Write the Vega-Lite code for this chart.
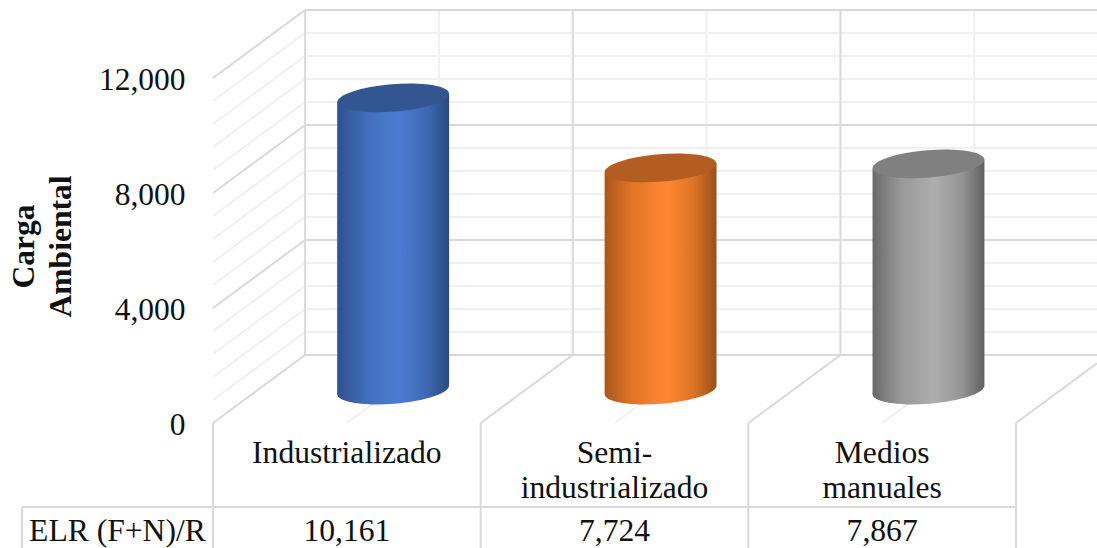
{
"$schema":"https://vega.github.io/schema/vega-lite/v6.json",
"width":1097,"height":548,"autosize":"none","padding":0,"background":"white",
"config":{"view":{"stroke":null},"text":{"font":"Liberation Serif"}},
"datasets":{
"grid":[
{"kind":"minor","x":0.844,"x2":0.844,"y":2365,"y2":14365},
{"kind":"minor","x":1.844,"x2":1.844,"y":2365,"y2":14365},
{"kind":"minor","x":2.844,"x2":2.844,"y":2365,"y2":14365},
{"kind":"minor","x":0.5,"x2":0.844,"y":0,"y2":2365},
{"kind":"minor","x":1.5,"x2":1.844,"y":0,"y2":2365},
{"kind":"minor","x":2.5,"x2":2.844,"y":0,"y2":2365},
{"kind":"minor","x":0.344,"x2":3.31,"y":3165,"y2":3165},
{"kind":"minor","x":0.344,"x2":3.31,"y":3965,"y2":3965},
{"kind":"minor","x":0.344,"x2":3.31,"y":4765,"y2":4765},
{"kind":"minor","x":0.344,"x2":3.31,"y":5565,"y2":5565},
{"kind":"minor","x":0.344,"x2":3.31,"y":7165,"y2":7165},
{"kind":"minor","x":0.344,"x2":3.31,"y":7965,"y2":7965},
{"kind":"minor","x":0.344,"x2":3.31,"y":8765,"y2":8765},
{"kind":"minor","x":0.344,"x2":3.31,"y":9565,"y2":9565},
{"kind":"minor","x":0.344,"x2":3.31,"y":11165,"y2":11165},
{"kind":"minor","x":0.344,"x2":3.31,"y":11965,"y2":11965},
{"kind":"minor","x":0.344,"x2":3.31,"y":12765,"y2":12765},
{"kind":"minor","x":0.344,"x2":3.31,"y":13565,"y2":13565},
{"kind":"minor","x":0,"x2":0.344,"y":800,"y2":3165},
{"kind":"minor","x":0,"x2":0.344,"y":1600,"y2":3965},
{"kind":"minor","x":0,"x2":0.344,"y":2400,"y2":4765},
{"kind":"minor","x":0,"x2":0.344,"y":3200,"y2":5565},
{"kind":"minor","x":0,"x2":0.344,"y":4800,"y2":7165},
{"kind":"minor","x":0,"x2":0.344,"y":5600,"y2":7965},
{"kind":"minor","x":0,"x2":0.344,"y":6400,"y2":8765},
{"kind":"minor","x":0,"x2":0.344,"y":7200,"y2":9565},
{"kind":"minor","x":0,"x2":0.344,"y":8800,"y2":11165},
{"kind":"minor","x":0,"x2":0.344,"y":9600,"y2":11965},
{"kind":"minor","x":0,"x2":0.344,"y":10400,"y2":12765},
{"kind":"minor","x":0,"x2":0.344,"y":11200,"y2":13565},
{"kind":"major","x":0.344,"x2":3.31,"y":2365,"y2":2365},
{"kind":"major","x":0.344,"x2":3.31,"y":6365,"y2":6365},
{"kind":"major","x":0.344,"x2":3.31,"y":10365,"y2":10365},
{"kind":"major","x":0.344,"x2":3.31,"y":14365,"y2":14365},
{"kind":"major","x":0,"x2":0.344,"y":0,"y2":2365},
{"kind":"major","x":0,"x2":0.344,"y":4000,"y2":6365},
{"kind":"major","x":0,"x2":0.344,"y":8000,"y2":10365},
{"kind":"major","x":0,"x2":0.344,"y":12000,"y2":14365},
{"kind":"major","x":0.344,"x2":0.344,"y":2365,"y2":14365},
{"kind":"major","x":1.344,"x2":1.344,"y":2365,"y2":14365},
{"kind":"major","x":2.344,"x2":2.344,"y":2365,"y2":14365},
{"kind":"major","x":1,"x2":1.344,"y":0,"y2":2365},
{"kind":"major","x":2,"x2":2.344,"y":0,"y2":2365},
{"kind":"major","x":3,"x2":3.3026,"y":0,"y2":2080},
{"kind":"major","x":0,"x2":0,"y":0,"y2":-4348},
{"kind":"major","x":1,"x2":1,"y":0,"y2":-4348},
{"kind":"major","x":2,"x2":2,"y":0,"y2":-4348},
{"kind":"major","x":3,"x2":3,"y":0,"y2":-4348},
{"kind":"major","x":-0.7136,"x2":3,"y":-2922,"y2":-2922},
{"kind":"major","x":-0.7136,"x2":-0.7136,"y":-2922,"y2":-4348}
],
"body":[
{"category":"Industrializado","x":0.464,"top":11152,"base":991},
{"category":"Industrializado","x":0.882,"top":11466,"base":1305},
{"category":"Semi-industrializado","x":1.463,"top":8715,"base":991},
{"category":"Semi-industrializado","x":1.881,"top":9029,"base":1305},
{"category":"Medios manuales","x":2.464,"top":8858,"base":991},
{"category":"Medios manuales","x":2.882,"top":9172,"base":1305}
],
"bars":[
{"category":"Industrializado","label":"Industrializado","ELR":10161,"center":0.673,"labelx":0.5,"top":11309,"base":1148,"labely":-1391,"elry":-4104},
{"category":"Semi-industrializado","label":"Semi-\nindustrializado","ELR":7724,"center":1.672,"labelx":1.5,"top":8872,"base":1148,"labely":-1391,"elry":-4104},
{"category":"Medios manuales","label":"Medios\nmanuales","ELR":7867,"center":2.673,"labelx":2.5,"top":9015,"base":1148,"labely":-1391,"elry":-4104}
],
"rowhead":[{"text":"ELR (F+N)/R","x":-0.357,"y":-4104}]
},
"layer":[
{"data":{"name":"grid"},"mark":{"type":"rule","strokeWidth":2,"clip":true},
 "encoding":{
 "x":{"field":"x","type":"quantitative","scale":{"domain":[-0.7958,3.3026],"nice":false,"zero":false},"axis":null},"x2":{"field":"x2"},
 "y":{"field":"y","type":"quantitative","scale":{"domain":[-4348,14713],"nice":false,"zero":false},
  "axis":{"orient":"left","offset":-190,"values":[0,4000,8000,12000],"labelExpr":"format(datum.value, ',')","domain":false,"ticks":false,"grid":false,"labelPadding":5,"labelOffset":3,"labelFont":"Liberation Serif","labelFontSize":31.5,"labelColor":"#111111","labelOverlap":false,"labelBound":false,
   "title":["Carga","Ambiental"],"titleFont":"Liberation Serif","titleFontSize":31.6,"titleFontWeight":"bold","titleColor":"#111111","titleAngle":-90,"titleAnchor":"middle","titleAlign":"center","titleBaseline":"alphabetic","titleLineHeight":37,"titleX":-157,"titleY":246}},
 "y2":{"field":"y2"},
 "color":{"field":"kind","type":"nominal","legend":null,"scale":{"domain":["minor","major"],"range":["#f0f0f0","#d9d9d9"]}}}},
{"data":{"name":"body"},"transform":[{"filter":"datum.category==='Industrializado'"}],
 "mark":{"type":"area","fill":{"gradient":"linear","x1":0,"x2":1,"y1":0,"y2":0,"stops":[{"offset":0,"color":"#2e5290"},{"offset":0.25,"color":"#416cb9"},{"offset":0.55,"color":"#4c7dd4"},{"offset":0.8,"color":"#3e68b2"},{"offset":1,"color":"#294a80"}]}},
 "encoding":{"x":{"field":"x","type":"quantitative"},"y":{"field":"top","type":"quantitative"},"y2":{"field":"base"}}},
{"data":{"name":"body"},"transform":[{"filter":"datum.category==='Semi-industrializado'"}],
 "mark":{"type":"area","fill":{"gradient":"linear","x1":0,"x2":1,"y1":0,"y2":0,"stops":[{"offset":0,"color":"#a9571c"},{"offset":0.25,"color":"#e27527"},{"offset":0.55,"color":"#ff8733"},{"offset":0.8,"color":"#dc7326"},{"offset":1,"color":"#98501a"}]}},
 "encoding":{"x":{"field":"x","type":"quantitative"},"y":{"field":"top","type":"quantitative"},"y2":{"field":"base"}}},
{"data":{"name":"body"},"transform":[{"filter":"datum.category==='Medios manuales'"}],
 "mark":{"type":"area","fill":{"gradient":"linear","x1":0,"x2":1,"y1":0,"y2":0,"stops":[{"offset":0,"color":"#6a6a6a"},{"offset":0.25,"color":"#989898"},{"offset":0.55,"color":"#aeaeae"},{"offset":0.8,"color":"#949494"},{"offset":1,"color":"#606060"}]}},
 "encoding":{"x":{"field":"x","type":"quantitative"},"y":{"field":"top","type":"quantitative"},"y2":{"field":"base"}}},
{"data":{"name":"bars"},"transform":[{"filter":"datum.category==='Industrializado'"}],
 "mark":{"type":"point","filled":true,"opacity":1,"strokeWidth":0,"size":12544,"shape":"M-0.997 0.08 A1 0.245 -4.6 1 1 0.997 -0.08 A1 0.245 -4.6 1 1 -0.997 0.08 Z","fill":{"gradient":"linear","x1":0,"x2":1,"y1":0,"y2":0,"stops":[{"offset":0,"color":"#2e5290"},{"offset":0.25,"color":"#416cb9"},{"offset":0.55,"color":"#4c7dd4"},{"offset":0.8,"color":"#3e68b2"},{"offset":1,"color":"#294a80"}]}},
 "encoding":{"x":{"field":"center","type":"quantitative"},"y":{"field":"base","type":"quantitative"}}},
{"data":{"name":"bars"},"transform":[{"filter":"datum.category==='Semi-industrializado'"}],
 "mark":{"type":"point","filled":true,"opacity":1,"strokeWidth":0,"size":12544,"shape":"M-0.997 0.08 A1 0.245 -4.6 1 1 0.997 -0.08 A1 0.245 -4.6 1 1 -0.997 0.08 Z","fill":{"gradient":"linear","x1":0,"x2":1,"y1":0,"y2":0,"stops":[{"offset":0,"color":"#a9571c"},{"offset":0.25,"color":"#e27527"},{"offset":0.55,"color":"#ff8733"},{"offset":0.8,"color":"#dc7326"},{"offset":1,"color":"#98501a"}]}},
 "encoding":{"x":{"field":"center","type":"quantitative"},"y":{"field":"base","type":"quantitative"}}},
{"data":{"name":"bars"},"transform":[{"filter":"datum.category==='Medios manuales'"}],
 "mark":{"type":"point","filled":true,"opacity":1,"strokeWidth":0,"size":12544,"shape":"M-0.997 0.08 A1 0.245 -4.6 1 1 0.997 -0.08 A1 0.245 -4.6 1 1 -0.997 0.08 Z","fill":{"gradient":"linear","x1":0,"x2":1,"y1":0,"y2":0,"stops":[{"offset":0,"color":"#6a6a6a"},{"offset":0.25,"color":"#989898"},{"offset":0.55,"color":"#aeaeae"},{"offset":0.8,"color":"#949494"},{"offset":1,"color":"#606060"}]}},
 "encoding":{"x":{"field":"center","type":"quantitative"},"y":{"field":"base","type":"quantitative"}}},
{"data":{"name":"bars"},
 "mark":{"type":"point","filled":true,"opacity":1,"strokeWidth":0,"size":12544,"shape":"M-0.997 0.08 A1 0.245 -4.6 1 1 0.997 -0.08 A1 0.245 -4.6 1 1 -0.997 0.08 Z"},
 "encoding":{"x":{"field":"center","type":"quantitative"},"y":{"field":"top","type":"quantitative"},
  "fill":{"field":"category","type":"nominal","legend":null,"scale":{"domain":["Industrializado","Semi-industrializado","Medios manuales"],"range":["#335592","#b35d21","#808080"]}}}},
{"data":{"name":"bars"},
 "mark":{"type":"text","font":"Liberation Serif","fontSize":31.6,"color":"#111111","align":"center","baseline":"alphabetic","lineBreak":"\n","lineHeight":35},
 "encoding":{"x":{"field":"labelx","type":"quantitative"},"y":{"field":"labely","type":"quantitative"},"text":{"field":"label","type":"nominal"}}},
{"data":{"name":"bars"},
 "mark":{"type":"text","font":"Liberation Serif","fontSize":31.6,"color":"#111111","align":"center","baseline":"alphabetic"},
 "encoding":{"x":{"field":"labelx","type":"quantitative"},"y":{"field":"elry","type":"quantitative"},"text":{"field":"ELR","type":"quantitative","format":","}}},
{"data":{"name":"rowhead"},
 "mark":{"type":"text","font":"Liberation Serif","fontSize":31.6,"color":"#111111","align":"center","baseline":"alphabetic"},
 "encoding":{"x":{"field":"x","type":"quantitative"},"y":{"field":"y","type":"quantitative"},"text":{"field":"text","type":"nominal"}}}
]
}
